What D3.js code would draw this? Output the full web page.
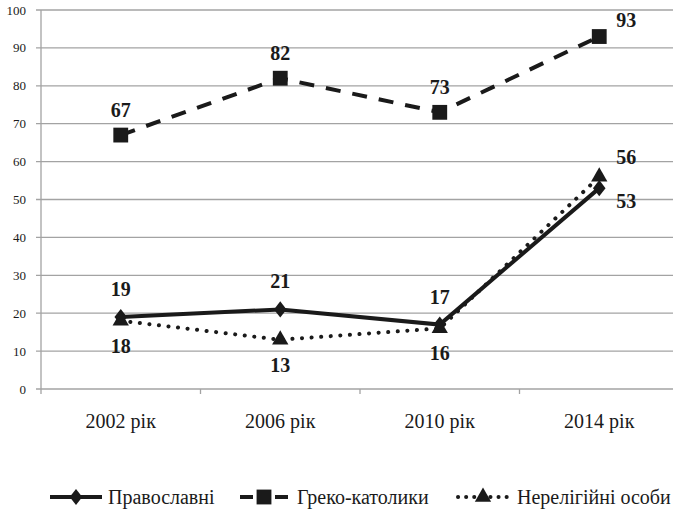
<!DOCTYPE html>
<html>
<head>
<meta charset="utf-8">
<script src="https://cdn.jsdelivr.net/npm/d3@7"></script>
<style>
  body { margin: 0; background: #fff; }
</style>
</head>
<body>
<div id="chart"></div>
<script>
const years = ["2002 рік", "2006 рік", "2010 рік", "2014 рік"];
const seriesNames = ["Православні", "Греко-католики", "Нерелігійні особи"];
const orthodox = [19, 21, 17, 53];
const greekCatholic = [67, 82, 73, 93];
const nonReligious = [18, 13, 16, 56];
const yTicks = [0, 10, 20, 30, 40, 50, 60, 70, 80, 90, 100];

const width = 673;
const height = 509;
const ink = "#1a1a1a";

const svg = d3.select("#chart")
    .append("svg")
    .attr("width", width)
    .attr("height", height)
    .style("display", "block")
    .attr("font-family", "Liberation Serif");

const x = d3.scaleBand()
    .domain(years)
    .range([41, 679]);

const y = d3.scaleLinear()
    .domain([0, 100])
    .range([389, 10]);

// gridlines
svg.selectAll(".grid")
    .data(yTicks)
    .enter()
    .append("line")
    .attr("x1", 36)
    .attr("x2", width)
    .attr("y1", d => y(d))
    .attr("y2", d => y(d))
    .attr("stroke", "#a3a3a3")
    .attr("stroke-width", 1.3);

svg.append("line")
    .attr("x1", 41).attr("x2", 41)
    .attr("y1", y(100)).attr("y2", y(0))
    .attr("stroke", "#a3a3a3")
    .attr("stroke-width", 1.3);

svg.selectAll(".ylab")
    .data(yTicks)
    .enter()
    .append("text")
    .attr("x", 26)
    .attr("y", d => y(d))
    .attr("dy", "0.35em")
    .attr("text-anchor", "end")
    .attr("font-size", "13px")
    .attr("fill", ink)
    .text(d => d);

// x axis ticks at category boundaries
const bounds = years.map(d => x(d));
svg.selectAll(".xtick")
    .data(bounds)
    .enter()
    .append("line")
    .attr("x1", d => d).attr("x2", d => d)
    .attr("y1", y(0)).attr("y2", y(0) + 5)
    .attr("stroke", "#a3a3a3")
    .attr("stroke-width", 1.3);

svg.selectAll(".xlab")
    .data(years)
    .enter()
    .append("text")
    .attr("x", d => x(d) + x.bandwidth() / 2)
    .attr("y", 421)
    .attr("dy", "0.35em")
    .attr("text-anchor", "middle")
    .attr("font-size", "20px")
    .attr("fill", ink)
    .text(d => d);

const cx = i => x(years[i]) + x.bandwidth() / 2;

const series = [
    { name: seriesNames[0], values: orthodox, dash: null, cap: "butt", marker: d3.symbolDiamond, msize: 75, sx: 1.35, labelDy: -28, lastDy: 13 },
    { name: seriesNames[1], values: greekCatholic, dash: "15,12", cap: "butt", marker: d3.symbolSquare, msize: 220, sx: 1, labelDy: -25, lastDy: -17 },
    { name: seriesNames[2], values: nonReligious, dash: "0.1,9.5", cap: "round", marker: d3.symbolTriangle, msize: 115, sx: 1, labelDy: 25, lastDy: -20 }
];

const line = d3.line()
    .x((d, i) => cx(i))
    .y(d => y(d));

series.forEach(s => {
    svg.append("path")
        .datum(s.values)
        .attr("d", line)
        .attr("fill", "none")
        .attr("stroke", ink)
        .attr("stroke-width", 4)
        .attr("stroke-linecap", s.cap)
        .attr("stroke-dasharray", s.dash);
});

series.forEach(s => {
    svg.selectAll(null)
        .data(s.values)
        .enter()
        .append("path")
        .attr("d", d3.symbol().type(s.marker).size(s.msize))
        .attr("transform", (d, i) => `translate(${cx(i)},${y(d)}) scale(${s.sx},1)`)
        .attr("fill", ink);
});

// data labels
series.forEach(s => {
    const last = s.values.length - 1;
    svg.selectAll(null)
        .data(s.values)
        .enter()
        .append("text")
        .attr("x", (d, i) => i === last ? cx(i) + 27 : cx(i))
        .attr("y", (d, i) => y(d) + (i === last ? s.lastDy : s.labelDy))
        .attr("dy", "0.35em")
        .attr("text-anchor", "middle")
        .attr("font-size", "20px")
        .attr("font-weight", "bold")
        .attr("fill", ink)
        .text(d => d);
});

// legend
const legendX = [50, 240, 458];
const legendW = [52, 48, 50];
const textGap = [6, 9, 9];

const legend = svg.selectAll(".legend")
    .data(series)
    .enter()
    .append("g")
    .attr("transform", (d, i) => `translate(${legendX[i]},497)`);

legend.append("line")
    .attr("x1", 0)
    .attr("x2", (d, i) => legendW[i])
    .attr("stroke", ink)
    .attr("stroke-width", 4)
    .attr("stroke-linecap", d => d.cap)
    .attr("stroke-dasharray", (d, i) => i === 1 ? "13,22,13" : (i === 2 ? "0.1,8" : null));

legend.append("path")
    .attr("d", d => d3.symbol().type(d.marker).size(d.msize)())
    .attr("transform", (d, i) => `translate(${legendW[i] / 2},0) scale(${d.sx},1)`)
    .attr("fill", ink);

legend.append("text")
    .attr("x", (d, i) => legendW[i] + textGap[i])
    .attr("dy", "0.35em")
    .attr("font-size", "20px")
    .attr("fill", ink)
    .text(d => d.name);
</script>
</body>
</html>
